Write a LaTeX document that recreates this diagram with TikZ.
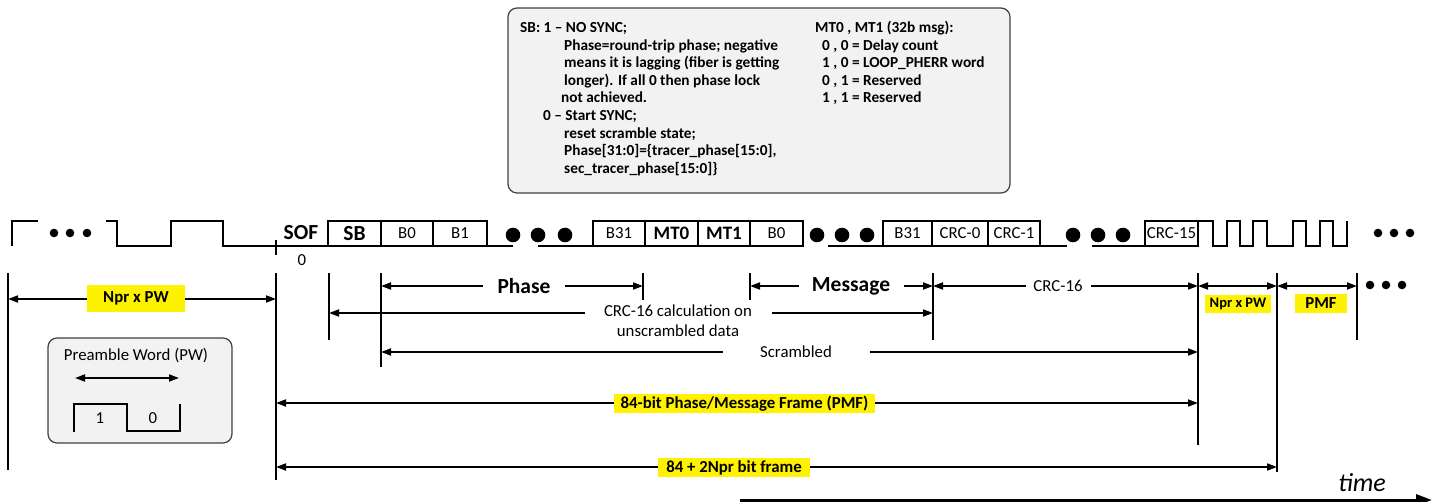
\documentclass[tikz,border=0pt]{standalone}
\usepackage{fontspec}
\setmainfont{Carlito}
\usetikzlibrary{arrows.meta,positioning}
\definecolor{notefill}{HTML}{F2F2F2}
\definecolor{noteline}{HTML}{404040}
\newcommand{\fsReg}{\fontsize{16.8}{20}\selectfont}
\newcommand{\fsMid}{\fontsize{19}{22}\selectfont\bfseries}
\newcommand{\fsBig}{\fontsize{21.5}{24}\selectfont\bfseries}
\newcommand{\fsNote}{\fontsize{15.3}{17.6}\selectfont\bfseries}
\newcommand{\fsTime}{\fontsize{26}{28}\selectfont\itshape}
\tikzset{
  sig/.style={line width=1.8pt},
  dimarr/.style={sig, {Triangle[length=10pt,width=7pt]}-{Triangle[length=10pt,width=7pt]}},
  cell/.style={draw, sig, minimum height=25pt, inner sep=0pt, outer sep=0pt, font=\fsReg},
  note/.style={draw=noteline, fill=notefill, line width=1.2pt, rounded corners=9pt},
  hl/.style={fill=yellow, inner sep=0pt, font=\fsReg\bfseries},
  gap/.style={fill=white, inner sep=0pt, font=\fsReg},
}
\begin{document}
\begin{tikzpicture}[x=1pt,y=-1pt]
\useasboundingbox (0,0) rectangle (1432,502);

% Note on SB and MT bits (top)
\node[note, minimum width=502pt, minimum height=185pt] (sbnote) at (759,100.5) {};
\foreach \i/\x/\txt in {1/520/{SB: 1 – NO SYNC;}, 2/564/{Phase=round-trip phase; negative},
    3/564/{means it is lagging (fiber is getting}, 4/564/{longer). If all 0 then phase lock},
    5/561/{not achieved.}, 6/543/{0 – Start SYNC;}, 7/564/{reset scramble state;},
    8/564/{Phase[31:0]=\{tracer\_phase[15:0],}, 9/564/{sec\_tracer\_phase[15:0]\}}}
  \node[font=\fsNote, anchor=base west, inner sep=0pt] (sbl\i) at (\x,{14.9+17.6*\i}) {\txt};
\foreach \i/\x/\txt in {1/815/{MT0 , MT1 (32b msg):}, 2/822/{0 , 0 = Delay count},
    3/822/{1 , 0 = LOOP\_PHERR word}, 4/822/{0 , 1 = Reserved}, 5/822/{1 , 1 = Reserved}}
  \node[font=\fsNote, anchor=base west, inner sep=0pt] (mtl\i) at (\x,{14.9+17.6*\i}) {\txt};

% Bit cells
\node[cell, minimum width=53pt, anchor=south west] (sb) at (328,246) {\fsBig SB};
\node[cell, minimum width=52pt, right=0pt of sb] (b0a) {B0};
\node[cell, minimum width=54pt, right=0pt of b0a] (b1a) {B1};
\node[cell, minimum width=52pt, anchor=south west] (b31a) at (593,246) {B31};
\node[cell, minimum width=53pt, right=0pt of b31a] (mt0) {\fsMid MT0};
\node[cell, minimum width=52pt, right=0pt of mt0] (mt1) {\fsMid MT1};
\node[cell, minimum width=53pt, right=0pt of mt1] (b0b) {B0};
\node[cell, minimum width=49pt, anchor=south west] (b31b) at (883,246) {B31};
\node[cell, minimum width=56pt, right=0pt of b31b] (crc0) {CRC-0};
\node[cell, minimum width=52pt, right=0pt of crc0] (crc1) {CRC-1};
\node[cell, minimum width=53pt, anchor=south west] (crc15) at (1145,246) {CRC-15};

% Preamble before SOF
\draw[sig] (12,246) -- (12,221) -- (38,221);
\foreach \x in {54,70,87} \fill (\x,233) circle (4.3);
\draw[sig] (106,221) -- (117,221) -- (117,246) -- (171,246) -- (171,221) -- (223,221) -- (223,246) -- (sb.south west);
\draw[sig] (276,240) -- (276,255);
\node[font=\fsBig] (sof) at (301,233) {SOF};
\node[font=\fsReg] (zero) at (302,260) {0};

% Gaps between cells
\draw[sig] (b1a.south east) -- (513,246);
\draw[sig] (538,246) -- (b31a.south west);
\draw[sig] (828,246) -- (b31b.south west);
\draw[sig] (crc1.south east) -- (1067,246);
\draw[sig] (1092,246) -- (crc15.south west);
\foreach \x in {513,538,565,817,842,867,1073,1098,1123} \fill (\x,235) circle (7.3);

% Preamble after CRC
\draw[sig] (crc15.north east) -- ++(15,0) -- ++(0,25) -- ++(14,0) -- ++(0,-25) -- ++(13,0) -- ++(0,25)
  -- ++(13,0) -- ++(0,-25) -- ++(14,0) -- ++(0,25) -- ++(26,0) -- ++(0,-25) -- ++(13,0) -- ++(0,25)
  -- ++(14,0) -- ++(0,-25) -- ++(13,0) -- ++(0,25) -- ++(14,0) -- ++(0,-25);
\foreach \x in {1378,1394,1410} \fill (\x,233) circle (4.3);

% Marker lines
\foreach \n/\x/\yb in {L/8/470, SOF/276/480, SB/329/340, BZ/381/367, PhE/643/300, MsS/750/300,
    MsE/933/340, CRC/1198/445, NPW/1277/472, PMF/1357/340}
  {\coordinate (t\n) at (\x,273); \coordinate (b\n) at (\x,\yb); \draw[sig] (t\n) -- (b\n);}
\coordinate (rA) at (0,286);
\coordinate (rN) at (0,299);
\coordinate (rB) at (0,313);
\coordinate (rC) at (0,352);
\coordinate (rD) at (0,403);
\coordinate (rE) at (0,467);

% Row of field widths
\draw[dimarr] (tL |- rN) -- (tSOF |- rN);
\node[hl, minimum width=98pt, minimum height=27pt] (lblNprL) at (136,298.5) {Npr x PW};
\draw[dimarr] (tBZ |- rA) -- (tPhE |- rA);
\node[gap, font=\fsBig, minimum width=82pt] (lblPhase) at (524,286) {Phase};
\draw[dimarr] (tMsS |- rA) -- (tMsE |- rA);
\node[gap, font=\fsBig, minimum width=105pt] (lblMsg) at (851,286) {Message};
\draw[dimarr] (tMsE |- rA) -- (tCRC |- rA);
\node[gap, minimum width=65pt] (lblCrc) at (1058,286) {CRC-16};
\draw[dimarr] (tCRC |- rA) -- (tNPW |- rA);
\node[hl, minimum width=66pt, minimum height=18pt, font=\fontsize{14.5}{16}\selectfont\bfseries] (lblNprR) at (1238,304) {Npr x PW};
\draw[dimarr] (tNPW |- rA) -- (tPMF |- rA);
\node[hl, minimum width=52pt, minimum height=19pt] (lblPmfR) at (1321,303.5) {PMF};
\foreach \x in {1370,1386,1402} \fill (\x,285) circle (4.3);

% CRC and scrambling ranges
\draw[dimarr] (tSB |- rB) -- (tMsE |- rB);
\node[gap, align=center, minimum width=187pt] (lblCalc) at (678,321) {CRC-16 calculation on\\unscrambled data};
\draw[dimarr] (tBZ |- rC) -- (tCRC |- rC);
\node[gap, minimum width=147pt] (lblScr) at (796,352) {Scrambled};

% Frame lengths
\draw[dimarr] (tSOF |- rD) -- (tCRC |- rD);
\node[hl, minimum width=261pt, minimum height=19pt] (lblPmf) at (744.5,403.5) {84-bit Phase/Message Frame (PMF)};
\draw[dimarr] (tSOF |- rE) -- (tNPW |- rE);
\node[hl, minimum width=152pt, minimum height=19pt] (lblFrame) at (734,467.5) {84 + 2Npr bit frame};

% Preamble word legend
\node[note, minimum width=184pt, minimum height=105pt] (pwbox) at (140,390.5) {};
\node[font=\fsReg] (pwtitle) at (136,356) {Preamble Word (PW)};
\coordinate (pwL) at (75,378);
\coordinate (pwR) at (179,378);
\draw[dimarr] (pwL) -- (pwR);
\draw[sig] (74,432) -- (74,404) -- (127,404) -- (127,431) -- (180,431) -- (180,404);
\node[font=\fsReg] (pwone) at (100,418) {1};
\node[font=\fsReg] (pwzero) at (153,418) {0};

% Time axis
\coordinate (tmS) at (740,500);
\coordinate (tmE) at (1432,500);
\draw[line width=3pt, -{Triangle[length=16pt,width=11pt]}] (tmS) -- (tmE);
\node[font=\fsTime] (lblTime) at (1362,483) {time};
\end{tikzpicture}
\end{document}
